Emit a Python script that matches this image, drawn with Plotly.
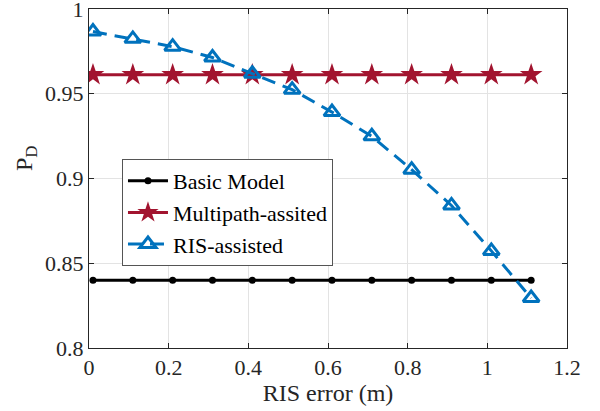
import plotly.graph_objects as go

ris_error = [0.01, 0.11, 0.21, 0.31, 0.41, 0.51, 0.61, 0.71, 0.81, 0.91, 1.01, 1.11]
basic_model = [0.840] * 12
multipath_assisted = [0.9612] * 12
ris_assisted = [0.9867, 0.9824, 0.9778, 0.9714, 0.9618, 0.9524, 0.9392, 0.9249, 0.9052, 0.8841, 0.8573, 0.8295]

x_ticks = [0, 0.2, 0.4, 0.6, 0.8, 1.0, 1.2]
x_ticklabels = ["0", "0.2", "0.4", "0.6", "0.8", "1", "1.2"]
y_ticks = [0.8, 0.85, 0.9, 0.95, 1.0]
y_ticklabels = ["0.8", "0.85", "0.9", "0.95", "1"]

FONT = "Times New Roman"

fig = go.Figure()
fig.add_trace(go.Scatter(
    x=ris_error, y=basic_model, name="Basic Model", mode="lines+markers",
    line=dict(color="#000000", width=3),
    marker=dict(symbol="circle", size=7, color="#000000"),
))
fig.add_trace(go.Scatter(
    x=ris_error, y=multipath_assisted, name="Multipath-assited", mode="lines+markers",
    line=dict(color="#A2142F", width=3),
    marker=dict(symbol="star", size=17, color="#A2142F"),
))
fig.add_trace(go.Scatter(
    x=ris_error, y=ris_assisted, name="RIS-assisted", mode="lines+markers",
    line=dict(color="#0072BD", width=3, dash="14px,8px"),
    marker=dict(symbol="triangle-up-open", size=14, color="#0072BD",
                line=dict(width=3, color="#0072BD")),
))

axis_common = dict(
    showline=True, linecolor="#262626", linewidth=1, mirror="ticks",
    ticks="inside", ticklen=5, tickcolor="#262626",
    showgrid=True, gridcolor="#e3e3e3", gridwidth=1, zeroline=False,
    tickfont=dict(family=FONT, size=22, color="#262626"),
    ticklabeloverflow="allow", automargin=False,
)

fig.update_xaxes(
    range=[0, 1.2], tickvals=x_ticks, ticktext=x_ticklabels,
    title=dict(text="RIS error (m)", font=dict(family=FONT, size=24, color="#262626"), standoff=2),
    **axis_common,
)
fig.update_yaxes(
    range=[0.8, 1.00001], tickvals=y_ticks, ticktext=y_ticklabels,
    **axis_common,
)

fig.add_annotation(
    text="P<sub>D</sub>", xref="paper", yref="paper",
    x=-0.132, y=0.56, xanchor="center", yanchor="middle",
    textangle=-90, showarrow=False,
    font=dict(family=FONT, size=24, color="#262626"),
)

fig.update_layout(
    width=600, height=411,
    margin=dict(l=89, r=33, t=9, b=63),
    paper_bgcolor="white", plot_bgcolor="white",
    font=dict(family=FONT, color="#262626"),
    legend=dict(
        x=0.069, y=0.5575, xanchor="left", yanchor="top",
        bgcolor="white", bordercolor="#555555", borderwidth=1,
        font=dict(family=FONT, size=22, color="#000000"),
        itemwidth=40,
    ),
)

fig.write_html("out.html")
